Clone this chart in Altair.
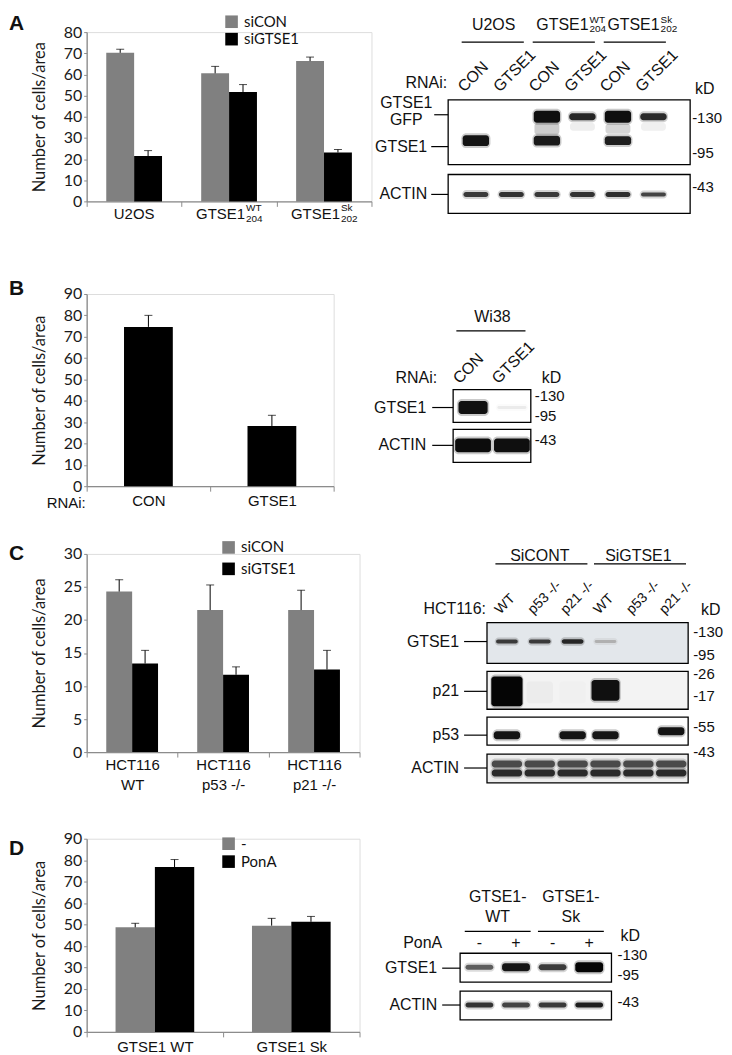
import altair as alt
import pandas as pd

# ======================= DATA =======================
# ---- Panel A : bar chart ----
A_cats = ["U2OS", "GTSE1 WT204", "GTSE1 Sk202"]
A_series = ["siCON", "siGTSE1"]
A_siCON = [70.2, 60.5, 66.3]
A_siCON_err = [1.7, 3.3, 1.9]
A_siGTSE1 = [21.4, 51.7, 23.1]
A_siGTSE1_err = [2.6, 3.5, 1.4]
A_main = ["U2OS", "GTSE1", "GTSE1"]
A_sup = ["", "WT", "Sk"]
A_sub = ["", "204", "202"]
# ---- Panel A : blot ----
A_lanes = ["U2OS CON", "U2OS GTSE1", "WT CON", "WT GTSE1", "Sk CON", "Sk GTSE1"]
A_lane_labels = ["CON", "GTSE1", "CON", "GTSE1", "CON", "GTSE1"]
A_groups = [("U2OS", "", "", 0, 1), ("GTSE1", "WT", "204", 2, 3), ("GTSE1", "Sk", "202", 4, 5)]
A_markers = [("-130", 18), ("-95", 53), ("-43", 88)]
A_proteins = [("GTSE1", 47), ("ACTIN", 95)]
A_bands = [  # lane, strip, position, thickness, shade
    (2, "smear", 29, 12, "#cdcdcd"), (4, "smear", 29, 10, "#d6d6d6"),
    (3, "smear", 27, 8, "#eeeeee"), (5, "smear", 27, 8, "#f0f0f0"),
    (0, "GTSE1", 41, 11, "#141414"),
    (2, "GTSE1", 17, 12, "#0f0f0f"), (2, "GTSE1", 41, 10, "#1a1a1a"),
    (3, "GTSE1", 17, 7, "#262626"),
    (4, "GTSE1", 17, 12, "#0f0f0f"), (4, "GTSE1", 41, 9, "#1e1e1e"),
    (5, "GTSE1", 17, 7, "#2b2b2b"),
    (0, "ACTIN", 95, 5, "#3a3a3a"), (1, "ACTIN", 95, 5, "#333333"), (2, "ACTIN", 95, 5, "#3a3a3a"),
    (3, "ACTIN", 95, 5, "#333333"), (4, "ACTIN", 95, 5, "#2e2e2e"), (5, "ACTIN", 95, 4, "#444444"),
]

# ---- Panel B : bar chart ----
B_cats = ["CON", "GTSE1"]
B_vals = [74.6, 28.2]
B_err = [5.4, 5.0]
# ---- Panel B : blot ----
B_lanes = ["CON", "GTSE1"]
B_groups = [("Wi38", 0, 1)]
B_markers = [("-130", 6), ("-95", 27), ("-43", 51)]
B_proteins = [("GTSE1", 18), ("ACTIN", 56)]
B_bands = [
    (1, "GTSE1", 18, 3, "#ebebeb"), (0, "GTSE1", 18, 13, "#111111"),
    (0, "ACTIN", 56, 14, "#0c0c0c"), (1, "ACTIN", 56, 14, "#0f0f0f"),
]

# ---- Panel C : bar chart ----
C_cats = ["HCT116|WT", "HCT116|p53 -/-", "HCT116|p21 -/-"]
C_series = ["siCON", "siGTSE1"]
C_siCON = [24.3, 21.5, 21.5]
C_siCON_err = [1.8, 3.8, 3.0]
C_siGTSE1 = [13.4, 11.7, 12.5]
C_siGTSE1_err = [2.0, 1.2, 2.9]
# ---- Panel C : blot ----
C_lanes = ["CONT WT", "CONT p53", "CONT p21", "GTSE1 WT", "GTSE1 p53", "GTSE1 p21"]
C_lane_labels = ["WT", "p53 -/-", "p21 -/-", "WT", "p53 -/-", "p21 -/-"]
C_groups = [("SiCONT", 0, 1, 2), ("SiGTSE1", 3, 4, 5)]
C_markers = [("-130", 9), ("-95", 33), ("-26", 52), ("-17", 74), ("-55", 105), ("-43", 130)]
C_proteins = [("GTSE1", 19), ("p21", 69), ("p53", 113), ("ACTIN", 146)]
C_bands = [
    (0, "GTSE1", 19, 4, "#3a3a3a"), (1, "GTSE1", 19, 4, "#3a3a3a"), (2, "GTSE1", 19, 4.5, "#262626"),
    (3, "GTSE1", 19, 3, "#b0b0b0"),
    (1, "faint", 70, 22, "#ececec"), (2, "faint", 70, 22, "#f0f0f0"),
    (0, "p21", 69, 30, "#050505"), (3, "p21s", 68, 21, "#101010"),
    (0, "p53", 113, 8, "#141414"), (2, "p53", 113, 8, "#141414"), (3, "p53", 113, 8, "#161616"),
    (5, "p53", 109, 8, "#141414"),
    (0, "ACTIN", 142, 7, "#4a4a4a"), (1, "ACTIN", 142, 7, "#4a4a4a"), (2, "ACTIN", 142, 7, "#4a4a4a"),
    (3, "ACTIN", 142, 7, "#4a4a4a"), (4, "ACTIN", 142, 7, "#4a4a4a"), (5, "ACTIN", 142, 7, "#4a4a4a"),
    (0, "ACTIN", 151, 7, "#2a2a2a"), (1, "ACTIN", 151, 7, "#2a2a2a"), (2, "ACTIN", 151, 7, "#2a2a2a"),
    (3, "ACTIN", 151, 7, "#2a2a2a"), (4, "ACTIN", 151, 7, "#2a2a2a"), (5, "ACTIN", 151, 7, "#2a2a2a"),
]

# ---- Panel D : bar chart ----
D_cats = ["GTSE1 WT", "GTSE1 Sk"]
D_series = ["-", "PonA"]
D_minus = [48.7, 49.5]
D_minus_err = [1.9, 3.4]
D_PonA = [76.8, 51.3]
D_PonA_err = [3.5, 2.5]
# ---- Panel D : blot ----
D_lanes = ["WT -", "WT +", "Sk -", "Sk +"]
D_lane_labels = ["-", "+", "-", "+"]
D_groups = [("GTSE1-", "WT", 0, 1), ("GTSE1-", "Sk", 2, 3)]
D_markers = [("-130", 2), ("-95", 22), ("-43", 49)]
D_proteins = [("GTSE1", 15), ("ACTIN", 52)]
D_bands = [
    (0, "GTSE1", 14, 5, "#5e5e5e"), (1, "GTSE1", 14, 8, "#161616"),
    (2, "GTSE1", 14, 6, "#3c3c3c"), (3, "GTSE1", 14, 10, "#050505"),
    (0, "ACTIN", 52, 5, "#333333"), (1, "ACTIN", 52, 5, "#444444"),
    (2, "ACTIN", 52, 5, "#3a3a3a"), (3, "ACTIN", 52, 5, "#1e1e1e"),
]

# ======================= STYLE / LAYOUT =======================
ARIAL = "Liberation Sans"
CAL = "Lato"
AX = "#8c8c8c"
INK = "#111111"
VX = 86  # page x of the y axes
ONE = pd.DataFrame({"k": [0]})


class Row:
    def __init__(self, top):
        self.top = top

    def X(self, px):
        return px - VX

    def Y(self, py):
        return py - self.top


def txt(text, x, y, size=16, align="center", baseline="middle", font=ARIAL,
        weight="normal", angle=None, color=INK):
    kw = dict(text=text, fontSize=size, align=align, baseline=baseline, font=font,
              fontWeight=weight, color=color)
    if angle is not None:
        kw["angle"] = angle
    return alt.Chart(ONE).mark_text(**kw).encode(x=alt.value(x), y=alt.value(y))


def hline(x1, x2, y, color="#000000", w=1.2):
    return alt.Chart(ONE).mark_rule(color=color, strokeWidth=w).encode(
        x=alt.value(x1), x2=alt.value(x2), y=alt.value(y))


def rect(x1, x2, y1, y2, fill):
    return alt.Chart(ONE).mark_rect(fill=fill, stroke="#000000", strokeWidth=1.3).encode(
        x=alt.value(x1), x2=alt.value(x2), y=alt.value(y1), y2=alt.value(y2))


def y_axis(vals, h):
    return alt.Axis(title="Number of cells/area", values=vals, grid=False, tickSize=3,
                    labelPadding=2, domainColor=AX, tickColor=AX, domainWidth=1.3,
                    labelFont=CAL, labelFontSize=16, labelColor="#1a1a1a",
                    titleFont=CAL, titleFontSize=16.5, titleFontWeight="normal",
                    titleColor="#1a1a1a", titleX=-47, titleY=h / 2, titleAngle=270,
                    titleAlign="center", titleBaseline="middle")


def x_axis(labels=True, pad=3.0, expr=None):
    kw = dict(title=None, labelAngle=0, tickBand="extent", tickSize=5, grid=False,
              domainColor=AX, tickColor=AX, domainWidth=1.3, labelFont=ARIAL,
              labelFontSize=15, labelColor=INK, labelPadding=pad, labels=labels)
    if expr:
        kw["labelExpr"] = expr
        kw["labelLineHeight"] = 20
    return alt.Axis(**kw)


def legend(lx, ly, rp):
    return alt.Legend(title=None, orient="none", legendX=lx, legendY=ly, symbolType="square",
                      symbolSize=160, symbolStrokeWidth=0, labelFont=CAL, labelFontSize=15,
                      labelColor=INK, labelOffset=5, rowPadding=rp, padding=0)


def grouped(cats, series, v1, e1, v2, e2, ymax, ystep, h, bw, xax, leg):
    df = pd.DataFrame({
        "cat": list(cats) * 2,
        "series": [series[0]] * len(cats) + [series[1]] * len(cats),
        "value": list(v1) + list(v2),
        "err": list(e1) + list(e2),
    })
    xs = alt.Scale(domain=cats, paddingInner=0, paddingOuter=0)
    ys = alt.Scale(domain=[0, ymax], nice=False)
    yax = y_axis(list(range(0, ymax + 1, ystep)), h)
    X = alt.X("cat:N", scale=xs, axis=xax)
    C = alt.Color("series:N", scale=alt.Scale(domain=series, range=["#808080", "#000000"]),
                  legend=leg)
    base = alt.Chart(df).transform_calculate(top="datum.value + datum.err")
    layers = []
    for k, s in enumerate(series):
        off = -bw / 2 if k == 0 else bw / 2
        b = base.transform_filter(alt.datum.series == s)
        layers += [
            b.mark_bar(width=bw, xOffset=off).encode(
                x=X, y=alt.Y("value:Q", scale=ys, axis=yax), color=C),
            b.mark_rule(color="#000000", strokeWidth=1, xOffset=off).encode(
                x=X, y=alt.Y("value:Q", scale=ys, axis=yax), y2="top:Q"),
            b.mark_tick(color="#000000", size=8, thickness=1, xOffset=off).encode(
                x=X, y=alt.Y("top:Q", scale=ys, axis=yax)),
        ]
    return layers, X


def blot_core(row, lanes, lane_px, T, frames, box_x, bands, widths, markers, marker_x,
              proteins, prot_x, line_x, mfs=15, pfs=16):
    xs = alt.Scale(domain=lanes, range=[row.X(lane_px[0]), row.X(lane_px[1])],
                   paddingInner=0, paddingOuter=0)
    ys = alt.Scale(domain=[0, 100], range=[row.Y(T), row.Y(T) + 100], nice=False, zero=False)
    L = []
    for (a, b, fill) in frames:
        L.append(rect(row.X(box_x[0]), row.X(box_x[1]), row.Y(T + a), row.Y(T + b), fill))
    df = pd.DataFrame(bands, columns=["li", "strip", "pos", "thick", "shade"])
    df["lane"] = [lanes[i] for i in df["li"]]
    for strip, w in widths.items():
        sub = df[df["strip"] == strip]
        if sub.empty:
            continue
        enc = dict(x=alt.X("lane:N", scale=xs, axis=None), color=alt.Color("shade:N", scale=None))
        if strip not in ("smear", "faint"):
            L.append(alt.Chart(sub).transform_calculate(
                y0="datum.pos - datum.thick/2 - 2", y1="datum.pos + datum.thick/2 + 2"
            ).mark_bar(width=alt.RelativeBandSize(min(w + 0.08, 1.0)), cornerRadius=5,
                       opacity=0.22).encode(y=alt.Y("y0:Q", scale=ys, axis=None), y2="y1:Q", **enc))
        L.append(alt.Chart(sub).transform_calculate(
            y0="datum.pos - datum.thick/2", y1="datum.pos + datum.thick/2"
        ).mark_bar(width=alt.RelativeBandSize(w), cornerRadius=3).encode(
            y=alt.Y("y0:Q", scale=ys, axis=None), y2="y1:Q", **enc))
    mk = pd.DataFrame(markers, columns=["text", "pos"])
    L.append(alt.Chart(mk).mark_text(align="left", baseline="middle", font=ARIAL, fontSize=mfs,
                                     color=INK).encode(
        x=alt.value(row.X(marker_x)), y=alt.Y("pos:Q", scale=ys, axis=None), text="text:N"))
    pr = pd.DataFrame(proteins, columns=["text", "pos"])
    L.append(alt.Chart(pr).mark_text(align="right", baseline="middle", font=ARIAL, fontSize=pfs,
                                     color=INK).encode(
        x=alt.value(row.X(prot_x)), y=alt.Y("pos:Q", scale=ys, axis=None), text="text:N"))
    L.append(alt.Chart(pr).mark_rule(color="#000000", strokeWidth=1.2).encode(
        x=alt.value(row.X(line_x[0])), x2=alt.value(row.X(line_x[1])),
        y=alt.Y("pos:Q", scale=ys, axis=None)))
    return L, xs, ys


def lane_text(row, xs, lanes, labels, bp, y, size=16, angle=315, align="left", baseline="alphabetic"):
    d = pd.DataFrame({"lane": lanes, "label": labels})
    return alt.Chart(d).mark_text(angle=angle, align=align, baseline=baseline, fontSize=size,
                                  font=ARIAL, color=INK).encode(
        x=alt.X("lane:N", scale=xs, axis=None, bandPosition=bp),
        y=alt.value(row.Y(y)), text="label:N")


def group_lines(row, xs, lanes, firsts, lasts, b0, b1, y):
    d = pd.DataFrame({"first": [lanes[i] for i in firsts], "last": [lanes[i] for i in lasts]})
    return alt.Chart(d).mark_rule(color="#000000", strokeWidth=1.2).encode(
        x=alt.X("first:N", scale=xs, axis=None, bandPosition=b0),
        x2=alt.X2("last:N", bandPosition=b1), y=alt.value(row.Y(y)))


def frame_rules(row, top, bottom):
    L = [hline(-78, 0, row.Y(top), color="#ffffff", w=0.5)]
    if bottom is not None:
        L.append(hline(-78, 0, row.Y(bottom), color="#ffffff", w=0.5))
    return L


def assemble(bar_layers, blot_layers, w, h):
    return alt.layer(alt.layer(*bar_layers), alt.layer(*blot_layers)).resolve_scale(
        x="independent", y="independent", color="independent").properties(width=w, height=h)


# ======================= ROW A =======================
rA = Row(29)
barsA, XA = grouped(A_cats, A_series, A_siCON, A_siCON_err, A_siGTSE1, A_siGTSE1_err,
                    80, 10, 170, 28, x_axis(labels=False), legend(138, -17.9, 1.5))
labA = pd.DataFrame({"cat": A_cats, "main": A_main, "sup": A_sup, "sub": A_sub})
barA_layers = barsA + [
    alt.Chart(labA).transform_filter("datum.sup == ''").mark_text(
        font=ARIAL, fontSize=15, color=INK, baseline="middle").encode(
        x=XA, y=alt.value(rA.Y(212)), text="main:N"),
    alt.Chart(labA).transform_filter("datum.sup != ''").mark_text(
        font=ARIAL, fontSize=15, color=INK, baseline="middle", align="right", dx=16).encode(
        x=XA, y=alt.value(rA.Y(212)), text="main:N"),
    alt.Chart(labA).transform_filter("datum.sup != ''").mark_text(
        font=ARIAL, fontSize=10, color=INK, baseline="middle", align="left", dx=17).encode(
        x=XA, y=alt.value(rA.Y(206)), text="sup:N"),
    alt.Chart(labA).transform_filter("datum.sup != ''").mark_text(
        font=ARIAL, fontSize=10, color=INK, baseline="middle", align="left", dx=17).encode(
        x=XA, y=alt.value(rA.Y(217)), text="sub:N"),
    txt("A", -78, rA.Y(27), size=21, align="left", baseline="alphabetic", weight="bold"),
] + frame_rules(rA, 8, 250)

TA = 97
blotA, xsA, ysA = blot_core(rA, A_lanes, (459, 673), TA, [(0, 65, "#ffffff"), (75, 114, "#ffffff")],
                            (449, 692), A_bands,
                            {"smear": 0.7, "GTSE1": 0.74, "ACTIN": 0.7},
                            A_markers, 694, A_proteins, 428, (432, 449))
gA = pd.DataFrame({"mid": [A_lanes[g[3]] for g in A_groups], "main": [g[0] for g in A_groups],
                   "sup": [g[1] for g in A_groups], "sub": [g[2] for g in A_groups]})
XmA = alt.X("mid:N", scale=xsA, axis=None, bandPosition=1)
blotA += [
    txt("GTSE1", rA.X(407), rA.Y(100), size=16),
    txt("GFP", rA.X(407), rA.Y(117), size=16),
    hline(rA.X(435), rA.X(449), rA.Y(112)),
    txt("kD", rA.X(697), rA.Y(86), size=16, align="left"),
    txt("RNAi:", rA.X(448), rA.Y(80), size=16, align="right"),
    lane_text(rA, xsA, A_lanes, A_lane_labels, 0.17, 90),
    group_lines(rA, xsA, A_lanes, [g[3] for g in A_groups], [g[4] for g in A_groups], 0.1, 0.85, 39),
    alt.Chart(gA).transform_filter("datum.sup == ''").mark_text(
        font=ARIAL, fontSize=16, color=INK, baseline="middle").encode(
        x=XmA, y=alt.value(rA.Y(22)), text="main:N"),
    alt.Chart(gA).transform_filter("datum.sup != ''").mark_text(
        font=ARIAL, fontSize=16, color=INK, baseline="middle", align="right", dx=24).encode(
        x=XmA, y=alt.value(rA.Y(22)), text="main:N"),
    alt.Chart(gA).transform_filter("datum.sup != ''").mark_text(
        font=ARIAL, fontSize=10, color=INK, baseline="middle", align="left", dx=25).encode(
        x=XmA, y=alt.value(rA.Y(16.5)), text="sup:N"),
    alt.Chart(gA).transform_filter("datum.sup != ''").mark_text(
        font=ARIAL, fontSize=10, color=INK, baseline="middle", align="left", dx=25).encode(
        x=XmA, y=alt.value(rA.Y(25.5)), text="sub:N"),
]
rowA = assemble(barA_layers, blotA, 286, 170)

# ======================= ROW B =======================
rB = Row(290)
dfB = pd.DataFrame({"cat": B_cats, "value": B_vals, "err": B_err})
xsB = alt.Scale(domain=B_cats, paddingInner=0, paddingOuter=0)
ysB = alt.Scale(domain=[0, 90], nice=False)
yaxB = y_axis(list(range(0, 91, 10)), 193)
XB = alt.X("cat:N", scale=xsB, axis=x_axis(pad=2.5))
baseB = alt.Chart(dfB).transform_calculate(top="datum.value + datum.err")
barB_layers = [
    baseB.mark_bar(width=49, color="#000000").encode(
        x=XB, y=alt.Y("value:Q", scale=ysB, axis=yaxB)),
    baseB.mark_rule(color="#000000", strokeWidth=1).encode(
        x=XB, y=alt.Y("value:Q", scale=ysB, axis=yaxB), y2="top:Q"),
    baseB.mark_tick(color="#000000", size=8, thickness=1).encode(
        x=XB, y=alt.Y("top:Q", scale=ysB, axis=yaxB)),
    txt("RNAi:", -1, rB.Y(500), size=15, align="right"),
    txt("B", -78, rB.Y(291), size=21, align="left", baseline="alphabetic", weight="bold"),
] + frame_rules(rB, 250, 520)

TB = 386
blotB, xsB2, ysB2 = blot_core(rB, B_lanes, (454.5, 532.5), TB, [(0, 33, "#ffffff"), (40, 73, "#ffffff")],
                              (454, 532), B_bands, {"GTSE1": 0.75, "ACTIN": 0.92},
                              B_markers, 536, B_proteins, 427, (433, 454))
gB = pd.DataFrame({"mid": [B_lanes[g[1]] for g in B_groups], "name": [g[0] for g in B_groups]})
blotB += [
    txt("kD", rB.X(543), rB.Y(374), size=16, align="left"),
    txt("RNAi:", rB.X(438), rB.Y(374), size=16, align="right"),
    lane_text(rB, xsB2, B_lanes, B_lanes, 0.15, 381),
    group_lines(rB, xsB2, B_lanes, [g[1] for g in B_groups], [g[2] for g in B_groups], 0.07, 0.85, 327),
    alt.Chart(gB).mark_text(font=ARIAL, fontSize=16, color=INK, baseline="middle").encode(
        x=alt.X("mid:N", scale=xsB2, axis=None, bandPosition=1), y=alt.value(rB.Y(313)), text="name:N"),
]
rowB = assemble(barB_layers, blotB, 248, 193)

# ======================= ROW C =======================
rC = Row(549)
barsC, XC = grouped(C_cats, C_series, C_siCON, C_siCON_err, C_siGTSE1, C_siGTSE1_err,
                    30, 5, 199, 26, x_axis(pad=0.5, expr="split(datum.label, '|')"),
                    legend(135, -14, 5.5))
barC_layers = barsC + [
    txt("C", -78, rC.Y(555), size=21, align="left", baseline="alphabetic", weight="bold"),
] + frame_rules(rC, 520, 810)

TC = 618
blotC, xsC, ysC = blot_core(rC, C_lanes, (491.5, 689.5), TC,
                            [(0, 41, "#e3e7eb"), (49, 87, "#f3f3f3"), (95, 123, "#ffffff"),
                             (132, 161, "#eeeeee")],
                            (488, 690), C_bands,
                            {"GTSE1": 0.66, "faint": 0.8, "p21": 0.95, "p21s": 0.85, "p53": 0.8,
                             "ACTIN": 0.92},
                            C_markers, 695, C_proteins, 460, (465, 488))
gC = pd.DataFrame({"mid": [C_lanes[g[2]] for g in C_groups], "name": [g[0] for g in C_groups]})
blotC += [
    txt("kD", rC.X(703), rC.Y(605), size=16, align="left"),
    txt("HCT116:", rC.X(487), rC.Y(604), size=16, align="right"),
    lane_text(rC, xsC, C_lanes, C_lane_labels, 0.3, 610, size=14),
    group_lines(rC, xsC, C_lanes, [0, 3], [2, 5], 0.15, 0.95, 559),
    alt.Chart(gC).mark_text(font=ARIAL, fontSize=16, color=INK, baseline="middle").encode(
        x=alt.X("mid:N", scale=xsC, axis=None, bandPosition=0.5), y=alt.value(rC.Y(551)), text="name:N"),
]
rowC = assemble(barC_layers, blotC, 274, 199)

# ======================= ROW D =======================
rD = Row(833)
barsD, XD = grouped(D_cats, D_series, D_minus, D_minus_err, D_PonA, D_PonA_err,
                    90, 10, 194, 39.5, x_axis(pad=2.5), legend(135, -2.5, 2))
barD_layers = barsD + [
    txt("D", -78, rD.Y(849), size=21, align="left", baseline="alphabetic", weight="bold"),
] + frame_rules(rD, 810, None)

TD = 948
blotD, xsD, ysD = blot_core(rD, D_lanes, (462, 609), TD, [(0, 29, "#ffffff"), (38, 67, "#ffffff")],
                            (461, 613), D_bands, {"GTSE1": 0.76, "ACTIN": 0.76},
                            D_markers, 619, D_proteins, 438, (443, 461))
gD = pd.DataFrame({"mid": [D_lanes[g[2]] for g in D_groups], "l1": [g[0] for g in D_groups],
                   "l2": [g[1] for g in D_groups]})
XmD = alt.X("mid:N", scale=xsD, axis=None, bandPosition=1)
blotD += [
    txt("kD", rD.X(622), rD.Y(931), size=16, align="left"),
    txt("PonA", rD.X(443), rD.Y(938), size=16, align="right"),
    lane_text(rD, xsD, D_lanes, D_lane_labels, 0.5, 938, size=16, angle=0, align="center",
              baseline="middle"),
    group_lines(rD, xsD, D_lanes, [g[2] for g in D_groups], [g[3] for g in D_groups], 0.1, 0.9, 926),
    alt.Chart(gD).mark_text(font=ARIAL, fontSize=16, color=INK, baseline="middle").encode(
        x=XmD, y=alt.value(rD.Y(892)), text="l1:N"),
    alt.Chart(gD).mark_text(font=ARIAL, fontSize=16, color=INK, baseline="middle").encode(
        x=XmD, y=alt.value(rD.Y(912)), text="l2:N"),
]
rowD = assemble(barD_layers, blotD, 274, 194)

chart = alt.vconcat(rowA, rowB, rowC, rowD, spacing=0, padding=0).resolve_scale(
    color="independent").configure_view(stroke=None).configure(background="#ffffff")

chart.save("out.html", embed_options={"renderer": "svg", "actions": False})
